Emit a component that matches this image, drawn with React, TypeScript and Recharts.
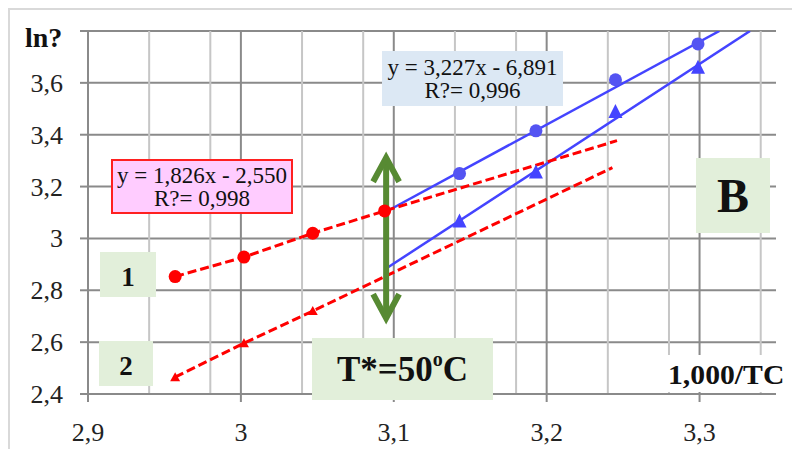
import React from 'react';
import { ComposedChart, Line, Scatter, XAxis, YAxis, CartesianGrid, ReferenceLine } from 'recharts';

// Axis ticks / grid values
const xTicks = [2.9, 3.0, 3.1, 3.2, 3.3];
const yTicks = [2.4, 2.6, 2.8, 3.0, 3.2, 3.4, 3.6, 3.8];
const minorX = [2.92, 2.94, 2.96, 2.98, 3.02, 3.04, 3.06, 3.08, 3.12, 3.14, 3.16, 3.18, 3.22, 3.24, 3.26, 3.28, 3.32, 3.34];

// Series 1 (red circles, dashed)
const red1X = [2.957, 3.002, 3.047, 3.094, 3.246];
const red1Y = [2.853, 2.928, 3.020, 3.106, 3.377];
const red1Marked = [true, true, true, true, false];
// Series 2 (red triangles, dashed)
const red2X = [2.957, 3.002, 3.047, 3.243];
const red2Y = [2.465, 2.596, 2.720, 3.273];
const red2Marked = [true, true, true, false];
// Series 1 blue (circles) markers and trend line
const blue1X = [3.143, 3.193, 3.245, 3.299];
const blue1Y = [3.250, 3.415, 3.612, 3.750];
const blue1FitX = [3.094, 3.313];
const blue1FitY = [3.100, 3.800];
// Series 2 blue (triangles) markers and trend line
const blue2X = [3.143, 3.193, 3.245, 3.299];
const blue2Y = [3.065, 3.254, 3.488, 3.658];
const blue2FitX = [3.094, 3.333];
const blue2FitY = [2.880, 3.800];
// T* arrow
const arrowX = [3.095, 3.095];
const arrowY = [2.685, 3.319];

const zip = (xs: number[], ys: number[]) => xs.map((x, i) => ({ x, y: ys[i] }));
const red1Data = red1X.map((x, i) => ({ x, y: red1Y[i], m: red1Marked[i] }));
const red2Data = red2X.map((x, i) => ({ x, y: red2Y[i], m: red2Marked[i] }));
const blue1Pts = zip(blue1X, blue1Y);
const blue2Pts = zip(blue2X, blue2Y);
const blue1Fit = zip(blue1FitX, blue1FitY);
const blue2Fit = zip(blue2FitX, blue2FitY);

const SERIF = '"Liberation Serif", "Times New Roman", serif';
const RED = '#ff0000';
const BLUE = '#4444ff';
const GRID_MAJOR = '#8a8a8a';
const GRID_MINOR = '#c6c6c6';

const fmt = (v: number) => String(Math.round(v * 10) / 10).replace('.', ',');

const RedCircle = (p: any) => {
  if (!p.payload || !p.payload.m) return <g />;
  return <circle cx={p.cx} cy={p.cy} r={6.5} fill={RED} />;
};
const RedTri = (p: any) => {
  if (!p.payload || !p.payload.m) return <g />;
  const { cx, cy } = p;
  return <polygon points={`${cx - 5},${cy + 4} ${cx + 5},${cy + 4} ${cx},${cy - 5}`} fill={RED} />;
};
const BlueCircle = (p: any) => <circle cx={p.cx} cy={p.cy} r={6.5} fill="#5454f2" />;
const BlueTri = (p: any) => {
  const { cx, cy } = p;
  return <polygon points={`${cx - 7},${cy + 6} ${cx + 7},${cy + 6} ${cx},${cy - 8}`} fill={BLUE} />;
};

const Arrow = (props: any) => {
  const { x1, y1, y2 } = props;
  const top = Math.min(y1, y2);
  const bot = Math.max(y1, y2);
  const x = x1;
  return (
    <g stroke="#578a33" strokeWidth={6} fill="none">
      <line x1={x} y1={top + 3} x2={x} y2={bot - 3} />
      <polyline points={`${x - 13},${top + 26} ${x},${top + 2} ${x + 13},${top + 26}`} />
      <polyline points={`${x - 13},${bot - 26} ${x},${bot - 2} ${x + 13},${bot - 26}`} />
    </g>
  );
};

const XTick = (p: any) => {
  const { x, y, payload } = p;
  return (
    <text x={x} y={y} dy={19} textAnchor="middle" style={{ fontFamily: SERIF, fontSize: 26, fill: '#222' }}>
      {fmt(payload.value)}
    </text>
  );
};
const YTick = (p: any) => {
  const { x, y, payload } = p;
  if (payload.value > 3.7) return <g />;
  return (
    <text x={x} y={y} dy={9} textAnchor="end" style={{ fontFamily: SERIF, fontSize: 26, fill: '#222' }}>
      {fmt(payload.value)}
    </text>
  );
};

const box = (left: number, top: number, w: number, h: number, bg: string, extra: any = {}) => ({
  position: 'absolute' as const,
  left,
  top,
  width: w,
  height: h,
  background: bg,
  display: 'flex',
  flexDirection: 'column' as const,
  alignItems: 'center',
  justifyContent: 'center',
  fontFamily: SERIF,
  color: '#111',
  boxSizing: 'border-box' as const,
  ...extra,
});

export default function App() {
  return (
    <div style={{ position: 'relative', width: 792, height: 441, background: '#fff', overflow: 'hidden' }}>
      <div style={{ position: 'absolute', left: 0, top: 0, width: 792, height: 2, background: '#d9d9d9' }} />
      <div style={{ position: 'absolute', left: 0, top: 0, width: 2, height: 441, background: '#d9d9d9' }} />
      <div style={{ position: 'absolute', left: 0, top: 0 }}>
        <ComposedChart width={792} height={441} margin={{ top: 23, right: 24, bottom: 0, left: 0 }}>
          <CartesianGrid vertical={false} horizontalValues={yTicks} stroke={GRID_MAJOR} strokeWidth={2} />
          <CartesianGrid horizontal={false} verticalValues={minorX} stroke={GRID_MINOR} strokeWidth={2} />
          <CartesianGrid horizontal={false} verticalValues={xTicks} stroke={GRID_MAJOR} strokeWidth={2} />
          <XAxis
            dataKey="x"
            type="number"
            domain={[2.9, 3.35]}
            ticks={xTicks}
            allowDataOverflow
            height={55}
            tickSize={8}
            tickMargin={20}
            axisLine={{ stroke: GRID_MAJOR, strokeWidth: 2 }}
            tickLine={{ stroke: GRID_MAJOR, strokeWidth: 2 }}
            tick={XTick}
          />
          <YAxis
            dataKey="y"
            type="number"
            domain={[2.4, 3.8]}
            ticks={yTicks}
            allowDataOverflow
            width={80}
            tickSize={8}
            tickMargin={17}
            axisLine={{ stroke: GRID_MAJOR, strokeWidth: 2 }}
            tickLine={{ stroke: GRID_MAJOR, strokeWidth: 2 }}
            tick={YTick}
          />
          <Line data={blue1Fit} dataKey="y" stroke={BLUE} strokeWidth={2.5} dot={false} isAnimationActive={false} />
          <Line data={blue2Fit} dataKey="y" stroke={BLUE} strokeWidth={2.5} dot={false} isAnimationActive={false} />
          <Scatter data={blue1Pts} dataKey="y" shape={BlueCircle} isAnimationActive={false} />
          <Scatter data={blue2Pts} dataKey="y" shape={BlueTri} isAnimationActive={false} />
          <Line data={red1Data} dataKey="y" stroke={RED} strokeWidth={3} strokeDasharray="9 4" dot={RedCircle} isAnimationActive={false} />
          <Line data={red2Data} dataKey="y" stroke={RED} strokeWidth={3} strokeDasharray="9 4" dot={RedTri} isAnimationActive={false} />
          <ReferenceLine
            segment={[{ x: arrowX[0], y: arrowY[0] }, { x: arrowX[1], y: arrowY[1] }]}
            shape={Arrow}
          />
        </ComposedChart>
      </div>

      {/* y-axis title */}
      <div style={{ position: 'absolute', left: 17, top: 16, fontFamily: SERIF, fontWeight: 'bold', fontSize: 28, lineHeight: '28px', color: '#111' }}>ln?</div>

      {/* equation boxes */}
      <div style={box(103, 151, 182, 55, '#ffccff', { border: '2px solid #ff2020', fontSize: 23, lineHeight: '23px' })}>
        <div>y = 1,826x - 2,550</div>
        <div>R?= 0,998</div>
      </div>
      <div style={box(374, 43, 181, 55, '#dce8f4', { fontSize: 23, lineHeight: '23px' })}>
        <div>y = 3,227x - 6,891</div>
        <div>R?= 0,996</div>
      </div>

      {/* labels */}
      <div style={box(688, 150, 74, 75, '#e2efda', { fontSize: 48, fontWeight: 'bold', lineHeight: '48px' })}>B</div>
      <div style={box(92, 244, 56, 45, '#e2efda', { fontSize: 27, fontWeight: 'bold', lineHeight: '27px', paddingTop: 6 })}>1</div>
      <div style={box(91, 333, 54, 45, '#e2efda', { fontSize: 27, fontWeight: 'bold', lineHeight: '27px', paddingTop: 6 })}>2</div>
      <div style={box(304, 330, 181, 62, '#e2efda', { fontSize: 35, fontWeight: 'bold', lineHeight: '35px', flexDirection: 'row' })}>
        <span>T*=50</span>
        <span style={{ fontSize: 20, position: 'relative', top: -10 }}>o</span>
        <span>C</span>
      </div>
      <div style={{ position: 'absolute', left: 659, top: 347, width: 117, height: 37, background: '#fff' }} />
      <div style={{ position: 'absolute', left: 660, top: 354, fontFamily: SERIF, fontWeight: 'bold', fontSize: 27, lineHeight: '27px', color: '#111', whiteSpace: 'nowrap', transform: 'scaleX(1.1)', transformOrigin: 'left center' }}>1,000/TC</div>
    </div>
  );
}
